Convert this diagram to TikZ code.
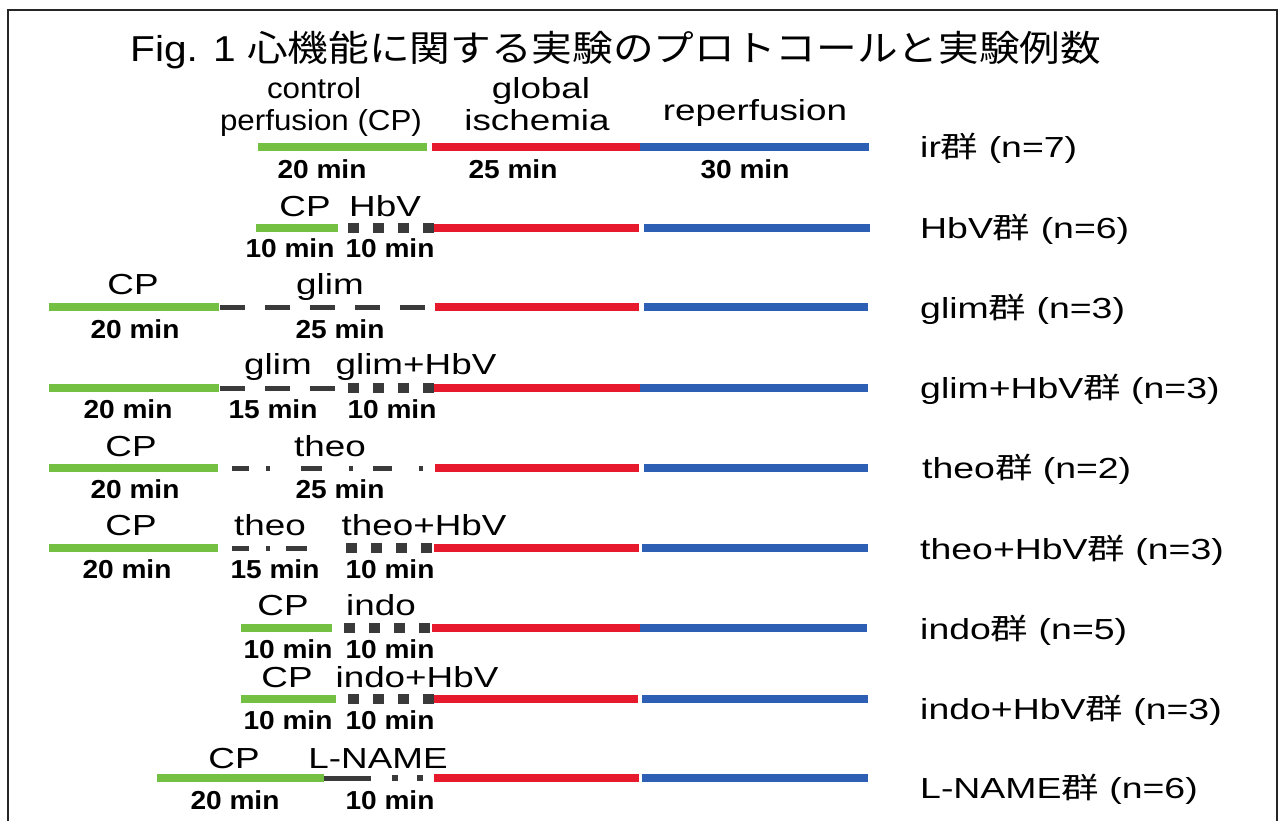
\documentclass[tikz,border=0pt]{standalone}
\usepackage{fontspec}
\setmainfont{Liberation Sans}
\newfontfamily\ttl[FakeStretch=1.13]{Liberation Sans}
\newfontfamily\ttljp[FakeStretch=1.13]{Noto Sans CJK JP}
\newfontfamily\lab[FakeStretch=1.27]{Liberation Sans}
\newfontfamily\labn[FakeStretch=1.08]{Liberation Sans}
\newfontfamily\grpf[FakeStretch=1.29]{Liberation Sans}
\newfontfamily\grpjp[FakeStretch=1.29]{Noto Sans CJK JP}
\newfontfamily\mn[FakeStretch=1.08]{Liberation Sans}
\newcommand{\gun}{{\grpjp 群}}
\definecolor{cpgreen}{HTML}{74C043}
\definecolor{iscred}{HTML}{E6192D}
\definecolor{repblue}{HTML}{2D5FB4}
\definecolor{drk}{HTML}{3A3A3A}
\tikzset{
  cp/.style={draw=cpgreen, line width=7.5pt},
  isch/.style={draw=iscred, line width=8pt},
  rep/.style={draw=repblue, line width=8pt},
  drugdash/.style={draw=drk, line width=5pt, dash pattern=on 25pt off 20pt},
  sq/.style={draw=drk, line width=10pt, dash pattern=on 11pt off 14pt},
  thinseg/.style={draw=drk, line width=5pt},
  lab/.style={anchor=base, inner sep=0pt, font=\lab\fontsize{29}{34}\selectfont},
  labnarrow/.style={anchor=base, inner sep=0pt, font=\labn\fontsize{29}{34}\selectfont},
  mins/.style={anchor=base, inner sep=0pt, font=\mn\bfseries\fontsize{26}{30}\selectfont},
  grp/.style={anchor=base west, inner sep=0pt, font=\grpf\fontsize{29}{34}\selectfont},
  ttlstyle/.style={anchor=base west, inner sep=0pt, font=\fontsize{36}{42}\selectfont},
}
\begin{document}
\begin{tikzpicture}[x=1pt,y=-1pt]
\useasboundingbox (0,0) rectangle (1282,821);
\fill[white] (0,0) rectangle (1282,821);
\draw[line width=2pt, draw=black!85] (8,10) rectangle (1277,840);
% title
\node[ttlstyle] (title) at (130,62) {{\ttl Fig. 1 }{\ttljp 心機能に関する実験のプロトコールと実験例数}};
% ---- row 1: ir
\draw[cp] (258,147) -- (427,147);
\draw[isch] (432,147) -- (640,147);
\draw[rep] (640,147) -- (869,147);
\node[labnarrow] (h1a) at (314,99) {control};
\node[labnarrow] (h1b) at (321,131) {perfusion (CP)};
\node[lab] (h2a) at (541,99) {global};
\node[lab] (h2b) at (537,131) {ischemia};
\node[lab] (h3) at (755,121) {reperfusion};
\node[mins] (m1a) at (322,179) {20 min};
\node[mins] (m1b) at (513,179) {25 min};
\node[mins] (m1c) at (745,179) {30 min};
\node[grp] (g1) at (920,158) {ir\gun\ (n=7)};
% ---- row 2: HbV
\draw[cp] (256,228) -- (338,228);
\draw[sq] (348,228) -- (434,228);
\draw[isch] (434,228) -- (639,228);
\draw[rep] (644,228) -- (870,228);
\node[lab] (l2a) at (305,216) {CP};
\node[lab] (l2b) at (385,216) {HbV};
\node[mins] (m2a) at (290,258) {10 min};
\node[mins] (m2b) at (390,258) {10 min};
\node[grp] (g2) at (920,238) {HbV\gun\ (n=6)};
% ---- row 3: glim
\draw[cp] (49,307) -- (219,307);
\draw[drugdash] (220,307) -- (425,307);
\draw[isch] (435,307) -- (639,307);
\draw[rep] (644,307) -- (868,307);
\node[lab] (l3a) at (133,294) {CP};
\node[lab] (l3b) at (330,294) {glim};
\node[mins] (m3a) at (135,338) {20 min};
\node[mins] (m3b) at (340,338) {25 min};
\node[grp] (g3) at (920,318) {glim\gun\ (n=3)};
% ---- row 4: glim+HbV
\draw[cp] (49,388) -- (219,388);
\draw[drugdash] (220,388) -- (335,388);
\draw[sq] (348,388) -- (434,388);
\draw[isch] (434,388) -- (640,388);
\draw[rep] (640,388) -- (868,388);
\node[lab] (l4a) at (278,374) {glim};
\node[lab] (l4b) at (416,374) {glim+HbV};
\node[mins] (m4a) at (128,418) {20 min};
\node[mins] (m4b) at (273,418) {15 min};
\node[mins] (m4c) at (392,418) {10 min};
\node[grp] (g4) at (920,398) {glim+HbV\gun\ (n=3)};
% ---- row 5: theo
\draw[cp] (49,468) -- (218,468);
\draw[thinseg] (232,468) -- (249,468);
\draw[thinseg] (266,468) -- (270,468);
\draw[thinseg] (301,468) -- (322,468);
\draw[thinseg] (349,468) -- (353,468);
\draw[thinseg] (373,468) -- (392,468);
\draw[thinseg] (419,468) -- (423,468);
\draw[isch] (435,468) -- (639,468);
\draw[rep] (644,468) -- (868,468);
\node[lab] (l5a) at (131,456) {CP};
\node[lab] (l5b) at (330,456) {theo};
\node[mins] (m5a) at (135,498) {20 min};
\node[mins] (m5b) at (340,498) {25 min};
\node[grp] (g5) at (922,478) {theo\gun\ (n=2)};
% ---- row 6: theo+HbV
\draw[cp] (49,548) -- (218,548);
\draw[thinseg] (232,548) -- (249,548);
\draw[thinseg] (266,548) -- (270,548);
\draw[thinseg] (286,548) -- (307,548);
\draw[sq] (346,548) -- (434,548);
\draw[isch] (434,548) -- (639,548);
\draw[rep] (642,548) -- (868,548);
\node[lab] (l6a) at (131,535) {CP};
\node[lab] (l6b) at (270,535) {theo};
\node[lab] (l6c) at (424,535) {theo+HbV};
\node[mins] (m6a) at (127,578) {20 min};
\node[mins] (m6b) at (275,578) {15 min};
\node[mins] (m6c) at (390,578) {10 min};
\node[grp] (g6) at (920,559) {theo+HbV\gun\ (n=3)};
% ---- row 7: indo
\draw[cp] (241,628) -- (332,628);
\draw[sq] (344,628) -- (432,628);
\draw[isch] (432,628) -- (640,628);
\draw[rep] (640,628) -- (867,628);
\node[lab] (l7a) at (283,615) {CP};
\node[lab] (l7b) at (381,615) {indo};
\node[mins] (m7a) at (288,658) {10 min};
\node[mins] (m7b) at (390,658) {10 min};
\node[grp] (g7) at (920,639) {indo\gun\ (n=5)};
% ---- row 8: indo+HbV
\draw[cp] (241,699) -- (336,699);
\draw[sq] (348,699) -- (434,699);
\draw[isch] (434,699) -- (638,699);
\draw[rep] (642,699) -- (868,699);
\node[lab] (l8a) at (287,687) {CP};
\node[lab] (l8b) at (417,687) {indo+HbV};
\node[mins] (m8a) at (288,729) {10 min};
\node[mins] (m8b) at (390,729) {10 min};
\node[grp] (g8) at (920,719) {indo+HbV\gun\ (n=3)};
% ---- row 9: L-NAME
\draw[cp] (157,778) -- (324,778);
\draw[thinseg] (324,778) -- (371,778);
\draw[thinseg, line width=6pt] (392,778) -- (398,778);
\draw[thinseg, line width=6pt] (417,778) -- (423,778);
\draw[isch] (434,778) -- (639,778);
\draw[rep] (642,778) -- (868,778);
\node[lab] (l9a) at (234,768) {CP};
\node[lab] (l9b) at (378,768) {L-NAME};
\node[mins] (m9a) at (235,809) {20 min};
\node[mins] (m9b) at (390,809) {10 min};
\node[grp] (g9) at (920,798) {L-NAME\gun\ (n=6)};
\end{tikzpicture}
\end{document}
